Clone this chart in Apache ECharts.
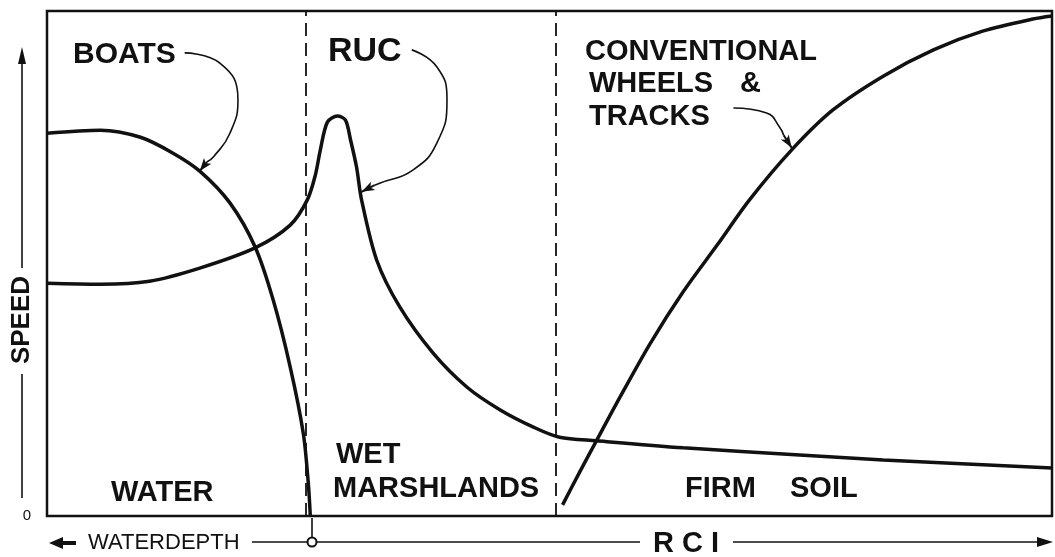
<!DOCTYPE html>
<html>
<head>
<meta charset="utf-8">
<script src="https://cdn.jsdelivr.net/npm/echarts@6/dist/echarts.min.js"></script>
<style>
  html, body { margin: 0; padding: 0; background: #fff; }
  #chart { width: 1055px; height: 557px; }
</style>
</head>
<body>
<div id="chart"></div>
<script>
// curves, x = 0..100 (water depth -> RCI), y = speed 0..100
const boats = [
  [0, 75.8], [5.3, 76.4], [9.3, 75.0], [12.5, 71.9], [15.2, 68.3], [18.2, 62.0],
  [20.7, 53.3], [22.5, 42.8], [24.2, 29.5], [25.5, 16.4], [26.0, 6.5], [26.2, 0]
]
const ruc = [
  [0, 46.1], [5.3, 45.9], [10.2, 46.5], [15.2, 49.1], [20.7, 53.1], [24.2, 57.6],
  [25.9, 62.6], [26.7, 67.5], [27.2, 72.5], [27.9, 78.0], [28.9, 79.2], [29.7, 78.4],
  [30.2, 74.5], [30.8, 69.1], [31.3, 62.6], [32.8, 50.7], [35.1, 41.4], [38.4, 32.3],
  [41.8, 25.5], [45.1, 21.0], [48.4, 17.6], [51.0, 15.6], [54.7, 14.9], [63.3, 13.5],
  [74.9, 12.1], [83.2, 11.1], [100, 9.5]
]
const wheels = [
  [51.3, 2.2], [53.0, 8.7], [54.7, 15.0], [56.7, 22.4], [60.0, 34.1], [63.3, 44.4],
  [66.7, 53.7], [69.9, 62.6], [74.1, 72.5], [78.2, 80.4], [83.2, 87.1], [88.2, 92.3],
  [93.1, 96.0], [98.1, 98.4], [100, 99.0]
]
const zoneBounds = [25.7, 50.6]

// leader lines from the labels to the curves (last pair = arrow head)
const boatsLeader = [[13.7, 91.7], [17.2, 89.7], [19.0, 82.4], [18.2, 75.8], [16.6, 71.2], [15.9, 70.1]]
const boatsArrow = [[15.9, 70.1], [15.2, 68.3]]
const rucLeader = [[36.3, 92.3], [38.8, 88.9], [39.8, 82.4], [38.8, 73.9], [36.4, 68.5], [33.1, 65.9], [32.6, 65.5]]
const rucArrow = [[32.6, 65.5], [31.3, 64.2]]
const wheelsLeader = [[68.3, 80.8], [71.6, 79.8], [72.9, 77.0], [73.3, 75.4]]
const wheelsArrow = [[73.3, 75.4], [74.1, 72.9]]

const FONT = '"Liberation Sans", Arial, sans-serif'
const INK = '#111'

const chart = echarts.init(document.getElementById('chart'))

function curve(data) {
  return {
    type: 'line',
    data: data,
    smooth: 0.3,
    symbol: 'none',
    silent: true,
    lineStyle: { color: INK, width: 3.5 }
  }
}

function leader(data, arrow) {
  return {
    type: 'line',
    data: data,
    smooth: 0.5,
    symbol: 'none',
    silent: true,
    lineStyle: { color: INK, width: 1.6 },
    markLine: {
      silent: true,
      symbol: ['none', 'arrow'],
      symbolSize: [7, 13],
      lineStyle: { color: INK, width: 2, type: 'solid' },
      label: { show: false },
      data: [[{ coord: arrow[0] }, { coord: arrow[1] }]]
    }
  }
}

function label(text, x, y, size, align) {
  return {
    type: 'text',
    x: x,
    y: y,
    style: {
      text: text,
      fill: INK,
      font: 'bold ' + size + 'px ' + FONT,
      textAlign: align || 'left',
      textVerticalAlign: 'middle'
    }
  }
}

chart.setOption({
  animation: false,
  backgroundColor: '#fff',
  grid: {
    left: 47,
    right: 3,
    top: 11,
    bottom: 41,
    outerBoundsMode: 'none',
    containLabel: false,
    show: true,
    borderColor: INK,
    borderWidth: 2.5
  },
  xAxis: {
    type: 'value',
    min: 0,
    max: 100,
    axisLine: { show: false },
    axisTick: { show: false },
    axisLabel: { show: false },
    splitLine: { show: false }
  },
  yAxis: {
    type: 'value',
    min: 0,
    max: 100,
    interval: 100,
    axisLine: { show: false },
    axisTick: { show: false },
    splitLine: { show: false },
    axisLabel: {
      margin: 16,
      color: INK,
      fontFamily: FONT,
      fontSize: 15,
      formatter: v => (v === 0 ? '0' : '')
    }
  },
  series: [
    Object.assign(curve(boats), {
      markLine: {
        silent: true,
        symbol: 'none',
        label: { show: false },
        lineStyle: { color: INK, width: 1.8, type: [13, 7] },
        data: zoneBounds.map(x => ({ xAxis: x }))
      }
    }),
    curve(ruc),
    curve(wheels),
    leader(boatsLeader, boatsArrow),
    leader(rucLeader, rucArrow),
    leader(wheelsLeader, wheelsArrow)
  ],
  graphic: [
    label('BOATS', 73, 55, 30),
    label('RUC', 328, 52, 34),
    label('CONVENTIONAL', 585, 52, 29),
    label('WHEELS', 589, 84, 29),
    label('&', 740, 84, 29),
    label('TRACKS', 589, 117, 29),
    label('WATER', 111, 493, 29),
    label('WET', 336, 455, 29),
    label('MARSHLANDS', 333, 489, 29),
    label('FIRM', 685, 489, 29),
    label('SOIL', 790, 489, 29),
    // speed arrow beside the y axis
    {
      type: 'text', x: 22, y: 320, rotation: Math.PI / 2,
      style: { text: 'SPEED', fill: INK, font: 'bold 26px ' + FONT, textAlign: 'center', textVerticalAlign: 'middle' }
    },
    { type: 'line', shape: { x1: 22, y1: 268, x2: 22, y2: 62 }, style: { stroke: INK, lineWidth: 1.6 } },
    { type: 'polygon', shape: { points: [[22, 47], [18, 64], [26, 64]] }, style: { fill: INK } },
    { type: 'line', shape: { x1: 22, y1: 374, x2: 22, y2: 498 }, style: { stroke: INK, lineWidth: 1.6 } },
    // water depth / RCI scale under the x axis
    { type: 'polygon', shape: { points: [[49, 543], [63, 537], [63, 549]] }, style: { fill: INK } },
    { type: 'line', shape: { x1: 62, y1: 543, x2: 76, y2: 543 }, style: { stroke: INK, lineWidth: 4 } },
    {
      type: 'text', x: 88, y: 543,
      style: { text: 'WATERDEPTH', fill: INK, font: '22px ' + FONT, textVerticalAlign: 'middle' }
    },
    { type: 'line', shape: { x1: 252, y1: 542, x2: 307, y2: 542 }, style: { stroke: INK, lineWidth: 1.6 } },
    { type: 'line', shape: { x1: 312, y1: 518, x2: 312, y2: 537 }, style: { stroke: INK, lineWidth: 1.6 } },
    { type: 'circle', shape: { cx: 312, cy: 542, r: 4.5 }, style: { fill: '#fff', stroke: INK, lineWidth: 2 } },
    { type: 'line', shape: { x1: 317, y1: 542, x2: 640, y2: 542 }, style: { stroke: INK, lineWidth: 1.6 } },
    {
      type: 'text', x: 686, y: 544,
      style: { text: 'R C I', fill: INK, font: 'bold 29px ' + FONT, textAlign: 'center', textVerticalAlign: 'middle' }
    },
    { type: 'line', shape: { x1: 733, y1: 542, x2: 1040, y2: 542 }, style: { stroke: INK, lineWidth: 1.6 } },
    { type: 'polygon', shape: { points: [[1053, 542], [1037, 537], [1037, 547]] }, style: { fill: INK } }
  ]
})
</script>
</body>
</html>
